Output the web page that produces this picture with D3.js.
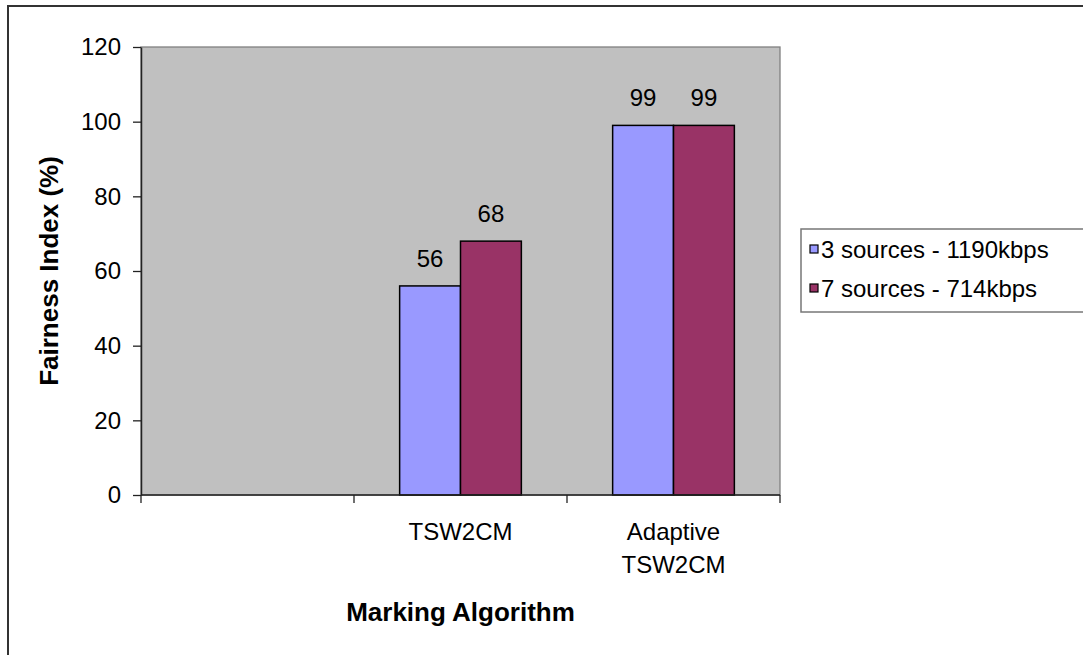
<!DOCTYPE html>
<html>
<head>
<meta charset="utf-8">
<script src="https://cdn.jsdelivr.net/npm/d3@7/dist/d3.min.js"></script>
<style>
  html, body { margin: 0; padding: 0; background: #fff; }
  svg { display: block; font-family: "Liberation Sans", Arial, sans-serif; }
</style>
</head>
<body>
<svg id="chart" width="1083" height="655"></svg>
<script>
// Fairness index per marking algorithm, two traffic scenarios
const categories = ["", "TSW2CM", "Adaptive TSW2CM"];
const categoryLines = [[], ["TSW2CM"], ["Adaptive", "TSW2CM"]];
const seriesNames = ["3 sources - 1190kbps", "7 sources - 714kbps"];
const seriesColors = ["#9999FF", "#993366"];
const values3src = [null, 56, 99];
const values7src = [null, 68, 99];
const yTicks = [0, 20, 40, 60, 80, 100, 120];

const svg = d3.select("#chart");
const W = 1083, H = 655;
const plot = { left: 141, right: 780, top: 47, bottom: 495 };
const fontSize = 24, titleSize = 26;

// chart area frame
svg.append("rect")
  .attr("x", 8).attr("y", 6)
  .attr("width", W + 20).attr("height", H + 20)
  .attr("fill", "#fff").attr("stroke", "#333").attr("stroke-width", 2);

const x0 = d3.scaleBand().domain(categories)
  .range([plot.left, plot.right]).paddingInner(0).paddingOuter(0);
const bw = x0.bandwidth();
// gap width 150% of a bar: two bars + 1.5 bar of gap per category
const barW = bw / 3.5;
const x1 = d3.scaleBand().domain(seriesNames)
  .range([barW * 0.75, barW * 0.75 + 2 * barW]).padding(0);
const y = d3.scaleLinear().domain([0, 120]).range([plot.bottom, plot.top]);

// plot area
svg.append("rect")
  .attr("x", plot.left).attr("y", plot.top)
  .attr("width", plot.right - plot.left).attr("height", plot.bottom - plot.top)
  .attr("fill", "#C0C0C0").attr("stroke", "#808080").attr("stroke-width", 1.3);

// bars
const rows = categories.map((c, i) => ({
  cat: c,
  vals: [values3src[i], values7src[i]]
}));
const groups = svg.append("g").selectAll("g").data(rows).join("g")
  .attr("transform", d => `translate(${x0(d.cat)},0)`);

const bars = groups.selectAll("g.bar")
  .data(d => d.vals.map((v, j) => ({ v, s: seriesNames[j], j })).filter(e => e.v != null))
  .join("g").attr("class", "bar");

bars.append("rect")
  .attr("x", d => x1(d.s)).attr("width", x1.bandwidth())
  .attr("y", d => y(d.v)).attr("height", d => y(0) - y(d.v))
  .attr("fill", d => seriesColors[d.j])
  .attr("stroke", "#000").attr("stroke-width", 1.5);

bars.append("text")
  .attr("x", d => x1(d.s) + x1.bandwidth() / 2)
  .attr("y", d => y(d.v) - 19)
  .attr("text-anchor", "middle")
  .attr("font-size", fontSize).attr("fill", "#000")
  .text(d => d.v);

// y axis
const yAxis = svg.append("g")
  .attr("transform", `translate(${plot.left},0)`)
  .call(d3.axisLeft(y).tickValues(yTicks).tickSize(8).tickPadding(12).tickSizeOuter(0));
yAxis.select(".domain").attr("stroke", "#222").attr("stroke-width", 1.5);
yAxis.selectAll(".tick line").attr("stroke", "#222").attr("stroke-width", 1.3);
yAxis.selectAll(".tick text")
  .attr("font-size", fontSize).attr("fill", "#000")
  .attr("font-family", "Liberation Sans, Arial, sans-serif");

// x axis: ticks sit on the category boundaries
const xAxis = svg.append("g").attr("transform", `translate(0,${plot.bottom})`);
xAxis.append("line")
  .attr("x1", plot.left).attr("x2", plot.right)
  .attr("stroke", "#222").attr("stroke-width", 1.5);
const edges = categories.map(c => x0(c)).concat([x0(categories[categories.length - 1]) + bw]);
xAxis.selectAll("line.tick").data(edges).join("line").attr("class", "tick")
  .attr("x1", d => d).attr("x2", d => d)
  .attr("y1", 0).attr("y2", 8)
  .attr("stroke", "#222").attr("stroke-width", 1.3);

const catLabels = xAxis.selectAll("text.cat").data(categories).join("text").attr("class", "cat")
  .attr("text-anchor", "middle")
  .attr("font-size", fontSize).attr("fill", "#000");
catLabels.each(function(c, i) {
  const t = d3.select(this);
  categoryLines[i].forEach((line, k) => {
    t.append("tspan")
      .attr("x", x0(c) + bw / 2)
      .attr("y", 45 + k * 33)
      .text(line);
  });
});

// axis titles
svg.append("text")
  .attr("x", (plot.left + plot.right) / 2).attr("y", 621)
  .attr("text-anchor", "middle")
  .attr("font-size", titleSize).attr("font-weight", "bold").attr("fill", "#000")
  .text("Marking Algorithm");

svg.append("text")
  .attr("transform", `translate(58,${(plot.top + plot.bottom) / 2}) rotate(-90)`)
  .attr("text-anchor", "middle")
  .attr("font-size", titleSize).attr("font-weight", "bold").attr("fill", "#000")
  .text("Fairness Index (%)");

// legend
const legend = svg.append("g");
legend.append("rect")
  .attr("x", 801).attr("y", 229)
  .attr("width", 300).attr("height", 83)
  .attr("fill", "#fff").attr("stroke", "#777").attr("stroke-width", 1.5);
const items = legend.selectAll("g.item").data(seriesNames).join("g").attr("class", "item")
  .attr("transform", (d, i) => `translate(0,${i * 39})`);
items.append("rect")
  .attr("x", 810).attr("y", 245).attr("width", 8).attr("height", 8)
  .attr("fill", (d, i) => seriesColors[i]).attr("stroke", "#000").attr("stroke-width", 1.2);
items.append("text")
  .attr("x", 821).attr("y", 258)
  .attr("font-size", fontSize).attr("fill", "#000")
  .text(d => d);
</script>
</body>
</html>
